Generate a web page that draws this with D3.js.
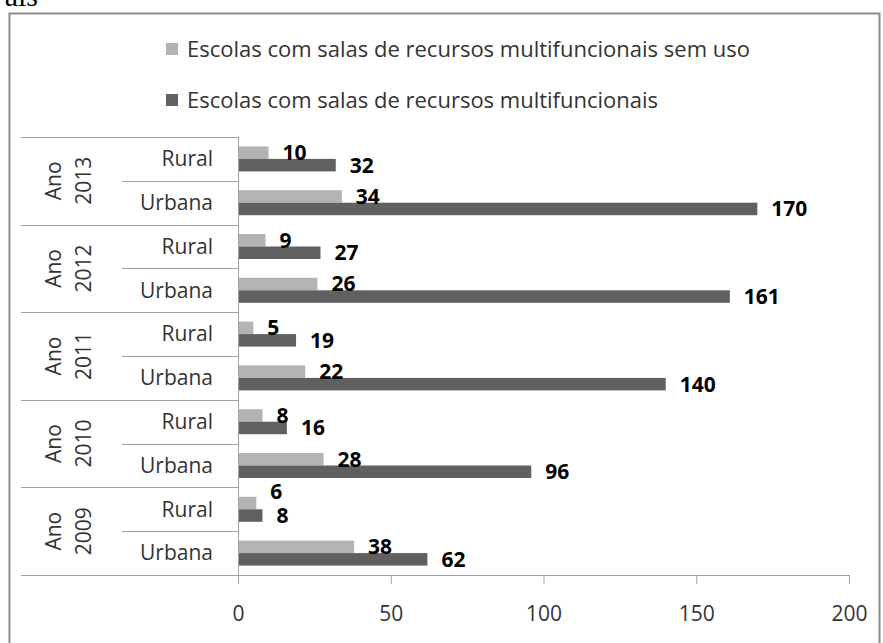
<!DOCTYPE html>
<html>
<head>
<meta charset="utf-8">
<script src="https://cdn.jsdelivr.net/npm/d3@7"></script>
<style>
    body { margin: 0; background: #fff; }
    svg text { font-family: "Open Sans", sans-serif; }
</style>
</head>
<body>
<div id="Area"></div>
<script>
// data
let years = ["2013", "2012", "2011", "2010", "2009"];
let zones = ["Rural", "Urbana"];
let seriesNames = [
    "Escolas com salas de recursos multifuncionais sem uso",
    "Escolas com salas de recursos multifuncionais"
];
// values per year, [Rural, Urbana]
let semUso = [[10, 34], [9, 26], [5, 22], [8, 28], [6, 38]];
let comSalas = [[32, 170], [27, 161], [19, 140], [16, 96], [8, 62]];
let xTicks = [0, 50, 100, 150, 200];

let colors = ["#b3b3b3", "#606060"];
let lineColor = "#a3a3a3";

drawChart();

function drawChart(){
    var width = 883, height = 643;

    var svg = d3.select("#Area")
    .append("svg")
    .attr("width", width)
    .attr("height", height);

    // cropped caption text above the chart
    svg.append("text")
    .attr("x", 38).attr("y", 6)
    .attr("text-anchor", "end")
    .style("font-family", "'Liberation Serif', serif")
    .style("font-size", "30px")
    .attr("fill", "#000")
    .text("ais");

    // chart frame
    svg.append("rect")
    .attr("x", 9.5).attr("y", 13.5)
    .attr("width", 870).attr("height", 660)
    .attr("fill", "none")
    .attr("stroke", "#8c8c8c")
    .attr("stroke-width", 2);

    // scales
    var x = d3.scaleLinear()
    .domain([0, 200])
    .range([238, 849]);

    var yYear = d3.scaleBand()
    .domain(years)
    .range([137, 575]);

    var yZone = d3.scaleBand()
    .domain(zones)
    .range([0, yYear.bandwidth()]);

    var half = 12.5;
    var ySeries = d3.scaleBand()
    .domain([0, 1])
    .range([yZone.bandwidth() / 2 - half, yZone.bandwidth() / 2 + half]);

    // legend
    var legend = svg.append("g");
    seriesNames.forEach(function(name, i){
        var ly = 49 + i * 51;
        legend.append("rect")
        .attr("x", 166).attr("y", ly - 6)
        .attr("width", 12).attr("height", 12)
        .attr("fill", colors[i]);
        legend.append("text")
        .attr("x", 187).attr("y", ly)
        .attr("dy", "0.35em")
        .style("font-size", "22px")
        .attr("fill", "#333")
        .text(name);
    });

    // x axis
    var xAxis = svg.append("g")
    .attr("transform", "translate(0,575)")
    .call(d3.axisBottom(x).tickValues(xTicks).tickSize(9).tickPadding(22).tickSizeOuter(9));
    xAxis.select(".domain").attr("stroke", lineColor);
    xAxis.selectAll(".tick line").attr("stroke", lineColor);
    xAxis.selectAll("text")
    .style("font-family", "'Open Sans', sans-serif")
    .style("font-size", "21px")
    .attr("fill", "#333");

    // category axis lines
    var cat = svg.append("g").attr("stroke", lineColor).attr("stroke-width", 1);
    cat.append("line")
    .attr("x1", 21).attr("x2", x(0))
    .attr("y1", 575.5).attr("y2", 575.5);
    cat.append("line")
    .attr("x1", x(0) + 0.5).attr("x2", x(0) + 0.5)
    .attr("y1", yYear.range()[0]).attr("y2", yYear.range()[1]);
    years.forEach(function(yr){
        var top = Math.round(yYear(yr)) + 0.5;
        cat.append("line")
        .attr("x1", 21).attr("x2", x(0))
        .attr("y1", top).attr("y2", top);
        var mid = Math.round(yYear(yr) + yZone.bandwidth()) + 0.5;
        cat.append("line")
        .attr("x1", 122).attr("x2", x(0))
        .attr("y1", mid).attr("y2", mid);
    });

    // year labels (rotated, two lines)
    years.forEach(function(yr){
        var cy = yYear(yr) + yYear.bandwidth() / 2;
        var t = svg.append("text")
        .attr("transform", "translate(68," + cy + ") rotate(-90)")
        .attr("text-anchor", "middle")
        .style("font-size", "21px")
        .attr("fill", "#333");
        t.append("tspan").attr("x", 0).attr("dy", "-0.35em").text("Ano");
        t.append("tspan").attr("x", 0).attr("dy", "1.43em").text(yr);
    });

    // zone labels
    years.forEach(function(yr){
        zones.forEach(function(z){
            svg.append("text")
            .attr("x", 213)
            .attr("y", yYear(yr) + yZone(z) + yZone.bandwidth() / 2)
            .attr("dy", "0.35em")
            .attr("text-anchor", "end")
            .style("font-size", "21px")
            .attr("fill", "#333")
            .text(z);
        });
    });

    // bars and labels
    var bars = svg.append("g");
    var labels = svg.append("g");
    years.forEach(function(yr, yi){
        zones.forEach(function(z, zi){
            var vals = [semUso[yi][zi], comSalas[yi][zi]];
            var base = yYear(yr) + yZone(z);
            var lx = vals.map(function(v){ return x(v) + 14; });
            vals.forEach(function(v, si){
                var by = base + ySeries(si);
                bars.append("rect")
                .attr("x", x(0) + 1)
                .attr("y", by)
                .attr("width", x(v) - x(0) - 1)
                .attr("height", ySeries.bandwidth())
                .attr("fill", colors[si]);

                var ty = by + ySeries.bandwidth() / 2;
                // move the light label up when it would run into the dark one
                if (si == 0) {
                    var w = String(v).length * 12;
                    if (lx[0] + w > lx[1]) ty -= 11;
                }
                labels.append("text")
                .attr("x", lx[si])
                .attr("y", ty)
                .attr("dy", "0.35em")
                .style("font-size", "21px")
                .style("font-weight", "bold")
                .attr("fill", "#000")
                .text(v);
            });
        });
    });
}
</script>
</body>
</html>
